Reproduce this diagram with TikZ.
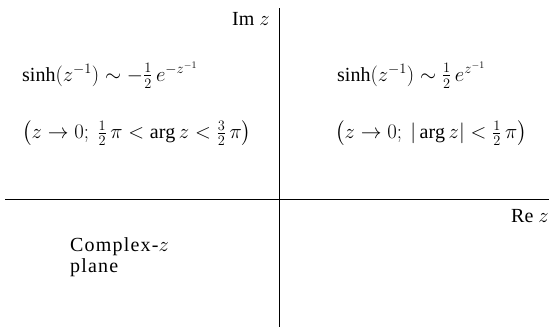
\documentclass[tikz,border=0pt]{standalone}
\usepackage{amsmath}
\usepackage{fontspec}
\setmainfont{Liberation Serif}
\newfontfamily\widefont[LetterSpace=6]{Liberation Serif}
\tikzset{
  axis/.style={line width=0.9pt},
  lbl/.style={inner sep=0pt, anchor=west, font=\fontsize{20}{21}\selectfont},
}
\begin{document}
\begin{tikzpicture}[x=1pt,y=-1pt]
\useasboundingbox (0,0) rectangle (549,327);
\coordinate (top) at (279,8);
\coordinate (bot) at (279,327);
\coordinate (left) at (5,199);
\coordinate (right) at (549,199);
\draw[axis] (top) -- (bot);
\draw[axis] (left) -- (right);
\node[lbl, anchor=east] (im) at (270,19) {Im $z$};
\node[lbl] (re) at (511,216) {Re $z$};
\node[lbl] (f1) at (22,75) {$\sinh(z^{-1}) \sim -\tfrac{1}{2}\,e^{-z^{-1}}$};
\node[lbl] (c1) at (22,133) {$\bigl(z \to 0;\ \tfrac{1}{2}\,\pi < \arg z < \tfrac{3}{2}\,\pi\bigr)$};
\node[lbl] (f2) at (337,75) {$\sinh(z^{-1}) \sim \tfrac{1}{2}\,e^{z^{-1}}$};
\node[lbl] (c2) at (335,133) {$\bigl(z \to 0;\ |\arg z| < \tfrac{1}{2}\,\pi\bigr)$};
\node[lbl, align=left, font=\fontsize{20}{21}\widefont] (cp) at (70,257) {Complex-$z$\\plane};
\end{tikzpicture}
\end{document}
